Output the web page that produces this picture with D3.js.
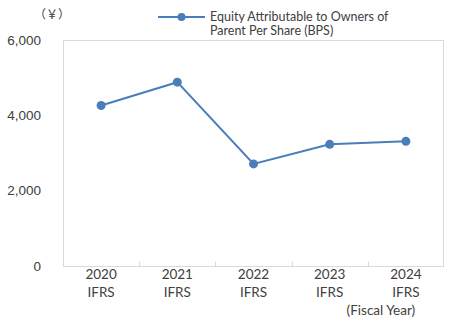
<!DOCTYPE html>
<html>
<head>
<meta charset="utf-8">
<script src="https://cdn.jsdelivr.net/npm/d3@7"></script>
<style>
  body { margin: 0; background: #fff; }
  svg { display: block; font-family: Lato, "Noto Sans CJK JP", sans-serif; }
</style>
</head>
<body>
<div id="chart"></div>
<script>
const years = ["2020", "2021", "2022", "2023", "2024"];
const standards = ["IFRS", "IFRS", "IFRS", "IFRS", "IFRS"];
const bps = [4260, 4880, 2710, 3230, 3310];
const yTicks = [0, 2000, 4000, 6000];
const legendLines = ["Equity Attributable to Owners of", "Parent Per Share (BPS)"];

const width = 455;
const height = 330;
const margin = { top: 40, right: 11, bottom: 64, left: 63 };
const lineColor = "#4a7ebb";
const textColor = "#404040";

const svg = d3.select("#chart").append("svg")
  .attr("width", width)
  .attr("height", height);

const x = d3.scaleBand()
  .domain(years)
  .range([margin.left, width - margin.right]);

const y = d3.scaleLinear()
  .domain([0, 6000])
  .range([height - margin.bottom, margin.top]);

// plot frame
svg.append("rect")
  .attr("x", margin.left + 0.5)
  .attr("y", margin.top + 0.5)
  .attr("width", width - margin.right - margin.left - 1)
  .attr("height", height - margin.bottom - margin.top)
  .attr("fill", "none")
  .attr("stroke", "#d9d9d9");

// y axis labels
svg.append("g")
  .attr("transform", `translate(${margin.left - 22}, 0)`)
  .call(d3.axisLeft(y).tickValues(yTicks).tickSize(0).tickPadding(0).tickFormat(d3.format(",")))
  .call((g) => {
    g.select(".domain").remove();
    g.selectAll("text").attr("font-size", 13.5).attr("font-family", null).attr("fill", textColor);
  });

svg.append("text")
  .attr("x", 52)
  .attr("y", 19)
  .attr("text-anchor", "middle")
  .attr("font-size", 12)
  .attr("font-family", "Noto Sans CJK JP")
  .attr("fill", textColor)
  .text("（￥）");

// x axis: ticks at band boundaries, pointing up
const xAxis = svg.append("g")
  .attr("transform", `translate(0, ${height - margin.bottom})`);

xAxis.selectAll("line.tick")
  .data(years.slice(1))
  .join("line")
  .attr("class", "tick")
  .attr("x1", (d) => Math.round(x(d)) + 0.5)
  .attr("x2", (d) => Math.round(x(d)) + 0.5)
  .attr("y1", 0)
  .attr("y2", -4)
  .attr("stroke", "#d9d9d9");

const labels = xAxis.selectAll("text.label")
  .data(years)
  .join("text")
  .attr("class", "label")
  .attr("text-anchor", "middle")
  .attr("font-size", 13.5)
  .attr("fill", textColor);

labels.append("tspan")
  .attr("x", (d) => x(d) + x.bandwidth() / 2)
  .attr("y", 13)
  .text((d) => d);

labels.append("tspan")
  .attr("x", (d) => x(d) + x.bandwidth() / 2)
  .attr("y", 31)
  .text((d, i) => standards[i]);

svg.append("text")
  .attr("x", x(years[4]) + x.bandwidth() / 2 - 25)
  .attr("y", 315)
  .attr("text-anchor", "middle")
  .attr("font-size", 13.5)
  .attr("fill", textColor)
  .text("(Fiscal Year)");

// line + markers
const line = d3.line()
  .x((d, i) => x(years[i]) + x.bandwidth() / 2)
  .y((d) => y(d));

svg.append("path")
  .datum(bps)
  .attr("d", line)
  .attr("fill", "none")
  .attr("stroke", lineColor)
  .attr("stroke-width", 2);

svg.selectAll("circle.point")
  .data(bps)
  .join("circle")
  .attr("class", "point")
  .attr("cx", (d, i) => x(years[i]) + x.bandwidth() / 2)
  .attr("cy", (d) => y(d))
  .attr("r", 4.5)
  .attr("fill", lineColor);

// legend
const legend = svg.append("g").attr("transform", "translate(158, 17)");
legend.append("line")
  .attr("x1", 0)
  .attr("x2", 47)
  .attr("stroke", lineColor)
  .attr("stroke-width", 2);
legend.append("circle")
  .attr("cx", 23.5)
  .attr("r", 4)
  .attr("fill", lineColor);
legend.selectAll("text")
  .data(legendLines)
  .join("text")
  .attr("x", 52)
  .attr("y", (d, i) => 4 + i * 14)
  .attr("font-size", 12.5)
  .attr("fill", textColor)
  .text((d) => d);
</script>
</body>
</html>
